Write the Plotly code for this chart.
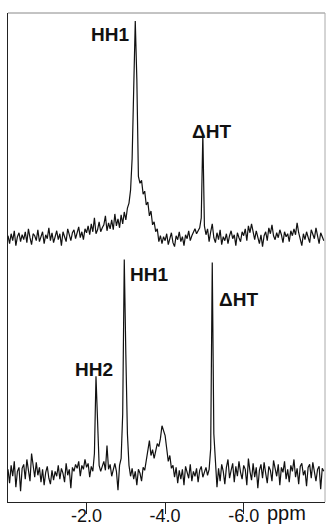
import plotly.graph_objects as go

# chemical shift grid (ppm), 0.04 ppm sampling
PPM = [round(-0.04 * i, 2) for i in range(202)]

# upper spectrum intensities (arbitrary units, baseline 0)
UPPER = [
    2, -6, 4, -3, 7, -8, 1, 5, -4, 3,
    -2, 6, -5, 9, 0, -7, 4, 2, -3, 8,
    -4, 1, 6, -6, 3, -1, 10, -3, 5, -5,
    2, 7, -2, 4, -8, 6, 1, -4, 9, 3,
    -3, 5, 8, -1, 4, 11, 0, 6, -2, 9,
    5, 12, 3, 14, 6, 20, 4, 8, 16, 6,
    10, 13, 22, 7, 15, 9, 18, 8, 24, 12,
    19, 10, 23, 14, 26, 18, 30, 35, 48, 80,
    150, 219, 160, 62, 55, 58, 44, 47, 33, 36,
    22, 27, 13, 16, 6, 9, -4, 2, -6, 1,
    -3, 4, -7, 0, 5, -5, -9, 2, -2, 6,
    -4, 1, -8, 3, -1, 7, -3, 2, 5, 9,
    4, 8, 10, 20, 105, 12, 3, 9, -4, 6,
    14, 0, -5, 5, -2, 8, -7, 1, -3, 4,
    -6, 2, 7, -1, 3, -8, 5, 0, -4, 6,
    2, 9, -3, 12, 5, 14, 4, -2, 7, 1,
    -6, 3, -9, 2, 6, -3, 10, 4, 13, 2,
    -2, 5, 0, 8, 3, -5, 6, 1, 4, -4,
    7, 2, 9, 3, 15, 5, -3, -8, 4, -2,
    6, 1, -5, 8, 3, -1, 10, 2, -6, 5,
    1, -3,
]

# lower spectrum intensities (arbitrary units, baseline 0)
LOWER = [
    4, -10, 8, -3, 12, -14, 2, 6, -18, 5,
    9, -6, 14, 3, -8, 20, 7, -4, 11, -2,
    6, -9, 4, -12, 1, 7, -5, -11, 3, -7,
    2, -3, 8, -6, 5, 0, -9, 10, -2, 4,
    -15, 6, 2, 9, 5, 12, -3, 8, 4, 14,
    6, 10, -4, 7, 2, 20, 98, 60, 8, 2,
    6, 12, 3, 28, 4, 9, -3, 5, 10, 2,
    -17, 8, 15, 60, 216, 120, 40, 8, -3, 5,
    -6, 2, -12, 4, 0, -8, 6, 3, 14, 20,
    33, 18, 24, 15, 22, 30, 27, 35, 48, 42,
    38, 25, 12, 18, 5, 8, -4, 6, -10, 3,
    -6, 4, -12, 7, 1, -5, 9, -8, 2, -3,
    5, -9, 3, 7, -4, 1, 6, -2, 4, 25,
    213, 40, 12, -14, 5, -8, 9, 2, -11, 6,
    14, -5, 3, 10, -9, 7, -3, 12, 1, -6,
    8, 4, -12, 15, 2, -7, 10, -4, 6, -15,
    3, 9, -5, 11, 0, -10, 7, 3, -8, 13,
    5, -3, 9, -12, 6, 1, 12, -6, 4, -9,
    8, 2, 14, -4, 5, -11, 7, 10, -2, 3,
    -13, 6, 9, -5, 11, 1, -8, 4, 7, -16,
    5, 2,
]

UPPER_OFFSET = 238

TICK_VALS = [-2, -4, -6]
TICK_TEXT = ["-2.0", "-4.0", "-6.0"]

# peak labels: (text, ppm, y in plotted units)
LABELS = [
    ("HH1", -2.60, 443),
    ("ΔHT", -5.19, 345),
    ("HH1", -3.59, 201),
    ("ΔHT", -5.88, 176),
    ("HH2", -2.19, 105),
]

FONT = "Liberation Sans, Arial, sans-serif"

fig = go.Figure()
fig.add_trace(go.Scatter(
    x=PPM, y=[v + UPPER_OFFSET for v in UPPER], mode="lines",
    line=dict(color="#111111", width=1.2), hoverinfo="skip", showlegend=False))
fig.add_trace(go.Scatter(
    x=PPM, y=LOWER, mode="lines",
    line=dict(color="#111111", width=1.2), hoverinfo="skip", showlegend=False))

for text, xv, yv in LABELS:
    fig.add_annotation(x=xv, y=yv, xref="x", yref="y", text=f"<b>{text}</b>",
                       showarrow=False, font=dict(family=FONT, size=19, color="#111"),
                       xanchor="center", yanchor="middle")

fig.add_annotation(x=-6.55, y=0, xref="x", yref="paper", text="ppm",
                   showarrow=False, font=dict(family=FONT, size=20, color="#111"),
                   xanchor="left", yanchor="middle", yshift=-11)

# faint top and right frame lines
fig.add_shape(type="line", xref="paper", yref="paper", x0=0, x1=1, y0=1, y1=1,
              line=dict(color="#888888", width=1))
fig.add_shape(type="line", xref="paper", yref="paper", x0=1, x1=1, y0=0, y1=1,
              line=dict(color="#aaaaaa", width=1))

fig.update_xaxes(range=[0, -8.07], showgrid=False, zeroline=False,
                 showline=True, linecolor="#222", linewidth=1,
                 ticks="outside", ticklen=11, tickwidth=1, tickcolor="#222",
                 tickvals=TICK_VALS, ticktext=TICK_TEXT,
                 ticklabelstandoff=-14,
                 tickfont=dict(family=FONT, size=18, color="#111"))
fig.update_yaxes(range=[-29, 465], showgrid=False, zeroline=False,
                 showline=True, linecolor="#222", linewidth=1,
                 showticklabels=False, ticks="")

fig.update_layout(width=326, height=527, margin=dict(l=8, r=1, t=13, b=20),
                  paper_bgcolor="white", plot_bgcolor="white")

fig.write_html("out.html")
